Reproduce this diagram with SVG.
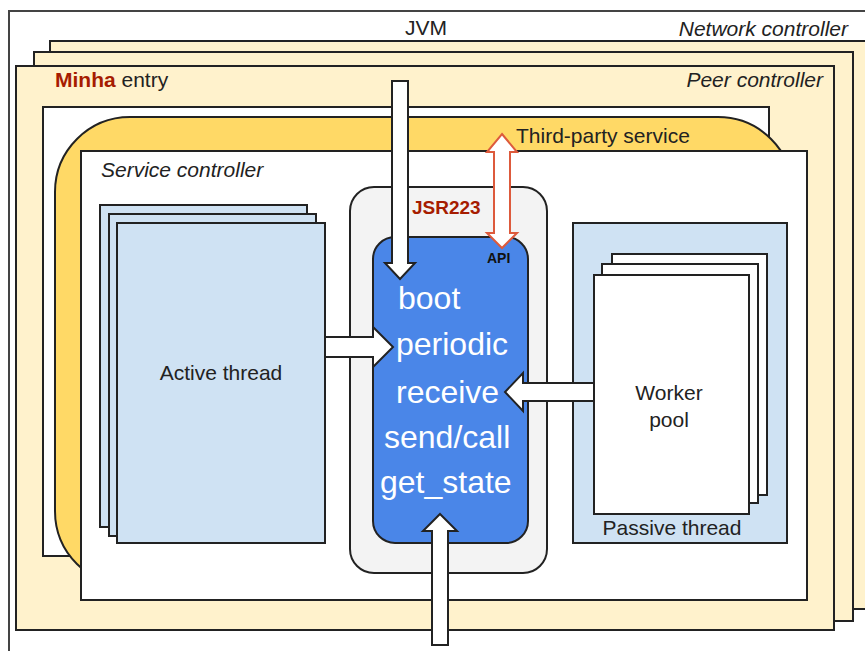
<svg xmlns="http://www.w3.org/2000/svg" width="865" height="651" viewBox="0 0 865 651">
<style>
text{font-family:"Liberation Sans",Arial,sans-serif;fill:#222}
.box{stroke:#222;stroke-width:2}
.card{fill:#fff2cc;stroke:#222;stroke-width:2}
.lbl{font-size:21px}
.it{font-style:italic}
.big{font-size:32px;fill:#fff}
.arr{fill:#fff;stroke:#222;stroke-width:2;stroke-linejoin:miter}
.thr{fill:#cfe2f3;stroke:#222;stroke-width:2}
.wk{fill:#fff;stroke:#222;stroke-width:2}
</style>
<rect width="865" height="651" fill="#fff"/>
<g id="jvm">
<rect x="9" y="11" width="880" height="660" fill="#fff" stroke="#444" stroke-width="2"/>
<text class="lbl" x="426" y="35" text-anchor="middle">JVM</text>
<text class="lbl it" x="848" y="36" text-anchor="end">Network controller</text>
</g>
<g id="network-controller">
<rect class="card" x="50" y="41" width="840" height="568"/>
<rect class="card" x="34" y="52" width="819" height="569"/>
</g>
<g id="peer-controller">
<rect class="card" x="16" y="66" width="818" height="564"/>
<text class="lbl it" x="823" y="87" text-anchor="end">Peer controller</text>
</g>
<g id="minha-entry">
<rect class="box" x="43" y="107" width="726" height="449" fill="#fff"/>
<text class="lbl" x="55" y="87"><tspan font-weight="bold" fill="#a61c00">Minha</tspan> entry</text>
</g>
<g id="third-party-service">
<rect class="box" x="55" y="117" width="738" height="469" rx="75" ry="75" fill="#ffd966"/>
<text class="lbl" x="516" y="143">Third-party service</text>
</g>
<g id="service-controller">
<rect class="box" x="81" y="151" width="726" height="449" fill="#fff"/>
<text class="lbl it" x="101" y="177">Service controller</text>
</g>
<g id="active-thread">
<rect class="thr" x="100" y="205" width="207" height="322"/>
<rect class="thr" x="109" y="214" width="207" height="322"/>
<rect class="thr" x="117" y="223" width="208" height="320"/>
<text class="lbl" x="221" y="380" text-anchor="middle">Active thread</text>
</g>
<g id="jsr223">
<rect class="box" x="350" y="187" width="197" height="386" rx="24" ry="24" fill="#f3f3f3"/>
<text x="412" y="214" font-size="19" font-weight="bold" style="fill:#a61c00">JSR223</text>
</g>
<g id="api">
<rect class="box" x="373" y="237" width="155" height="306" rx="22" ry="22" fill="#4a86e8"/>
<text x="487" y="263" font-size="14" font-weight="bold" style="fill:#111">API</text>
<text class="big" x="398" y="309">boot</text>
<text class="big" x="396" y="355">periodic</text>
<text class="big" x="396" y="403">receive</text>
<text class="big" x="384" y="448">send/call</text>
<text class="big" x="380" y="493">get_state</text>
</g>
<g id="passive-thread">
<rect class="thr" x="573" y="223" width="214" height="320"/>
<text class="lbl" x="672" y="535" text-anchor="middle">Passive thread</text>
</g>
<g id="worker-pool">
<rect class="wk" x="612" y="254" width="155" height="241"/>
<rect class="wk" x="602" y="264" width="156" height="239"/>
<rect class="wk" x="594" y="275" width="155" height="239"/>
<text class="lbl" x="669" y="400" text-anchor="middle">Worker</text>
<text class="lbl" x="669" y="427" text-anchor="middle">pool</text>
</g>
<g id="connectors">
<polygon class="arr" points="392,81 408,81 408,263 415,263 400,279 385,263 392,263"/>
<polygon class="arr" points="502,134 517,152 510,152 510,233 517,233 502,248 487,233 494,233 494,152 487,152" style="stroke:#dd5a3c"/>
<polygon class="arr" points="440,514 457,531 448,531 448,645 432,645 432,531 423,531"/>
<polygon class="arr" points="325,337 373,337 373,327 393,347 373,367 373,357 325,357"/>
<polygon class="arr" points="594,383 523,383 523,373 505,392 523,411 523,401 594,401"/>
</g>
</svg>
